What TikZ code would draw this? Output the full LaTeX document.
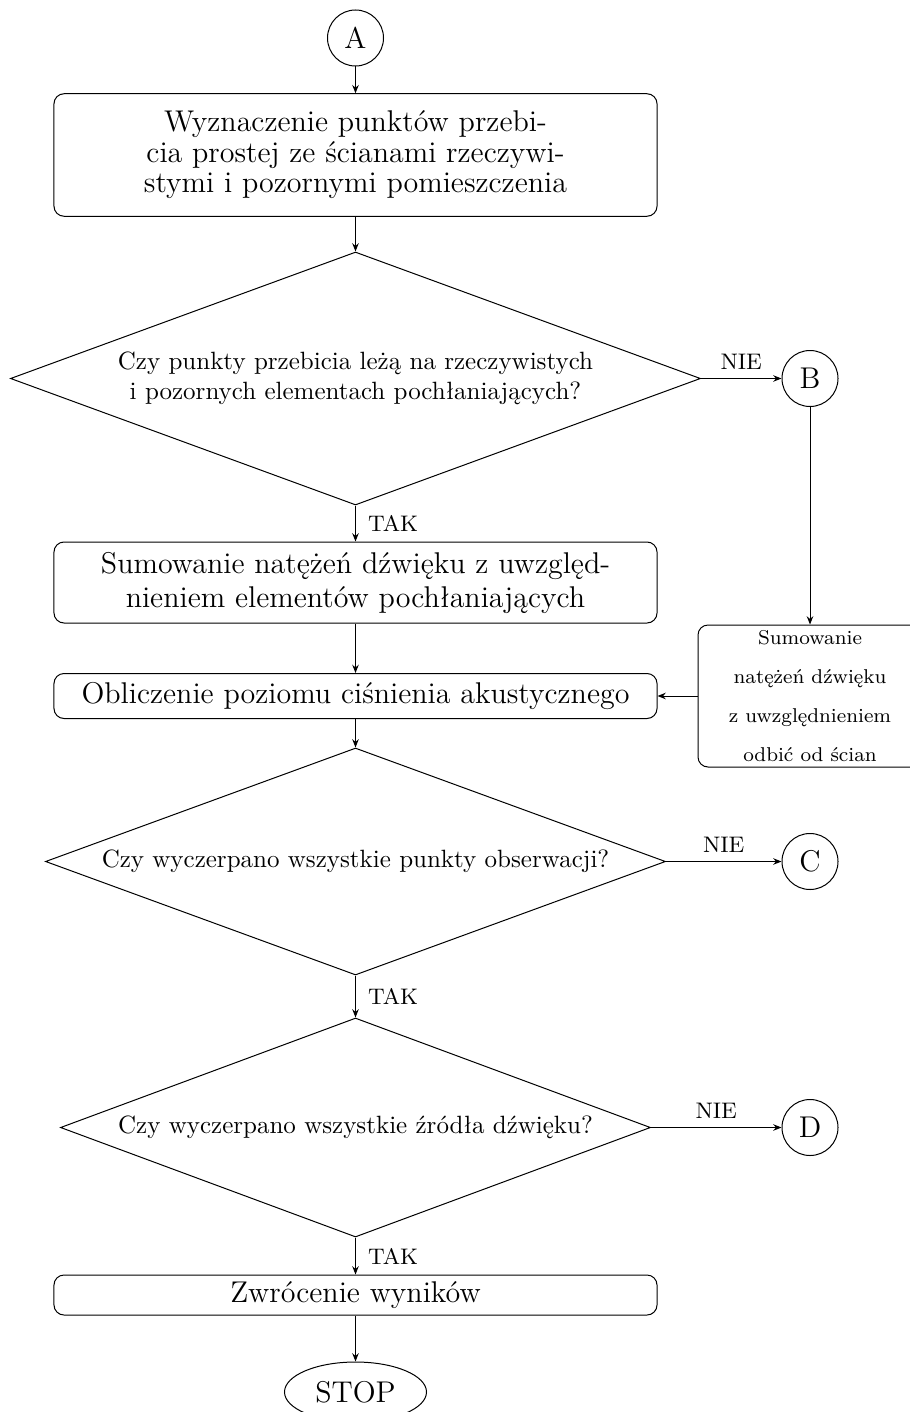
\documentclass[tikz,border=0pt]{standalone}
\usetikzlibrary{shapes.geometric,arrows.meta}
\begin{document}
\begin{tikzpicture}[x=0.4pt,y=-0.4pt,
  conn/.style={circle,draw,minimum size=22.4pt,inner sep=0pt,font=\large},
  proc/.style={rectangle,rounded corners=4pt,draw,inner sep=0pt,minimum width=241.2pt,align=center},
  decision/.style={diamond,draw,inner sep=0pt,align=center,font=\normalsize},
  arr/.style={-{Stealth[length=3.3pt,width=2.6pt]}},
  lbl/.style={font=\small}]
\useasboundingbox (0,0) rectangle (910,1412);
\node[conn] (A) at (355.5,38) {A};
\node[proc, minimum height=49pt, font=\fontsize{12}{12.2}\selectfont] (b1) at (355.5,155) {Wyznaczenie punktów przebi-\\cia prostej ze ścianami rzeczywi-\\stymi i pozornymi pomieszczenia};
\node[decision, minimum width=276pt, minimum height=101.2pt, shape aspect=2.73] (d1) at (355.5,378.5) {Czy punkty przebicia leżą na rzeczywistych\\i pozornych elementach pochłaniających?};
\node[conn] (B) at (810,378.5) {B};
\node[rectangle,rounded corners=4pt,draw,minimum width=89.6pt,minimum height=56.8pt,inner sep=0pt,align=center,font=\fontsize{8}{15.5}\selectfont] (r) at (810,696) {Sumowanie\\natężeń dźwięku\\z uwzględnieniem\\odbić od ścian};
\node[proc, minimum height=32.4pt, font=\fontsize{12}{13.6}\selectfont] (b2) at (355.5,582.5) {Sumowanie natężeń dźwięku z uwzględ-\\nieniem elementów pochłaniających};
\node[proc, minimum height=18pt, font=\large] (b3) at (355.5,696) {Obliczenie poziomu ciśnienia akustycznego};
\node[decision, minimum width=248pt, minimum height=90.8pt, shape aspect=2.73] (d2) at (355.5,861.5) {Czy wyczerpano wszystkie punkty obserwacji?};
\node[conn] (C) at (810,861.5) {C};
\node[decision, minimum width=236pt, minimum height=87.6pt, shape aspect=2.69] (d3) at (355.5,1127.5) {Czy wyczerpano wszystkie źródła dźwięku?};
\node[conn] (D) at (810,1127.5) {D};
\node[proc, minimum height=16pt, font=\large] (b4) at (355.5,1295) {Zwrócenie wyników};
\node[ellipse,draw,minimum width=56.8pt,minimum height=24pt,inner sep=0pt,font=\large] (stop) at (355.5,1392) {STOP};

\draw[arr] (A) -- (b1);
\draw[arr] (b1) -- (d1);
\draw[arr] (d1.east) -- node[midway,above,lbl] {NIE} (B);
\draw[arr] (B) -- (r);
\draw[arr] (d1.south) -- node[midway,right,lbl,xshift=1.5pt] {TAK} (b2);
\draw[arr] (b2) -- (b3);
\draw[arr] (r.west) -- (b3.east);
\draw[arr] (b3) -- (d2.north);
\draw[arr] (d2.east) -- node[midway,above,lbl] {NIE} (C);
\draw[arr] (d2.south) -- node[midway,right,lbl,xshift=1.5pt] {TAK} (d3.north);
\draw[arr] (d3.east) -- node[midway,above,lbl] {NIE} (D);
\draw[arr] (d3.south) -- node[midway,right,lbl,xshift=1.5pt] {TAK} (b4);
\draw[arr] (b4) -- (stop);
\end{tikzpicture}
\end{document}
